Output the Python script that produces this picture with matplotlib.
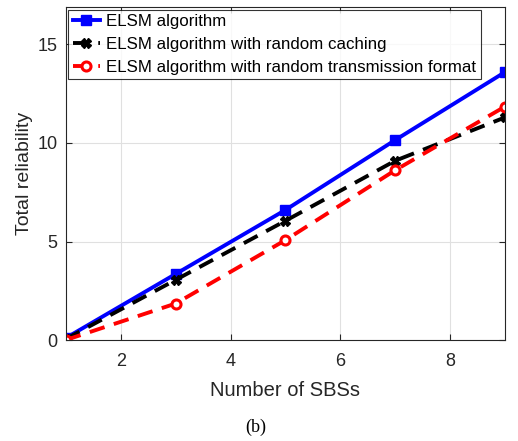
import matplotlib
matplotlib.use("Agg")
import matplotlib.pyplot as plt

plt.rcParams['font.family'] = ['Liberation Sans', 'DejaVu Sans']

sbs = [1, 3, 5, 7, 9]
elsm = [0.1, 3.35, 6.6, 10.15, 13.6]
elsm_rand_cache = [0.05, 3.05, 6.05, 9.1, 11.3]
elsm_rand_tx = [0.0, 1.85, 5.07, 8.62, 11.85]
labels = ["ELSM algorithm",
          "ELSM algorithm with random caching",
          "ELSM algorithm with random transmission format"]
xticks = [2, 4, 6, 8]
yticks = [0, 5, 10, 15]

fig = plt.figure(figsize=(5.18, 4.41), dpi=100)
ax = fig.add_axes([0.127, 0.229, 0.848, 0.755])

ax.plot(sbs, elsm, color='#0000ff', lw=2.8, marker='s', ms=6.5, label=labels[0])
ax.plot(sbs, elsm_rand_cache, color='black', lw=2.8, ls=(0, (4, 2.5)), marker='X', ms=6.5,
        label=labels[1])
ax.plot(sbs, elsm_rand_tx, color='#ff0000', lw=2.8, ls=(0, (4, 2.5)), marker='o', ms=6.5,
        mfc='white', mew=2.2, label=labels[2])

ax.set_xlim(1, 9)
ax.set_ylim(0, 16.9)
ax.set_xticks(xticks)
ax.set_yticks(yticks)
ax.grid(True, color='#e0e0e0', lw=0.8)
ax.set_axisbelow(True)
ax.tick_params(direction='in', top=True, right=True, labelsize=13, colors='#262626',
               length=4)
ax.tick_params(axis='x', pad=9)
ax.tick_params(axis='y', pad=6)
for sp in ax.spines.values():
    sp.set_color('#262626')
    sp.set_linewidth(0.8)

ax.set_xlabel("Number of SBSs", fontsize=14.5, color='#262626', labelpad=8)
ax.set_ylabel("Total reliability", fontsize=14, color='#262626', labelpad=3)

leg = ax.legend(loc='upper left', fontsize=12.2, frameon=True, fancybox=False,
                edgecolor='black', borderpad=0.25, labelspacing=0.47,
                handlelength=1.6, handletextpad=0.4, borderaxespad=0.15)
leg.get_frame().set_linewidth(0.8)

fig.text(0.494, 0.032, "(b)", ha='center', va='center', fontsize=13,
         family=['Liberation Serif', 'DejaVu Serif'])

fig.savefig("out.png", dpi=100)
